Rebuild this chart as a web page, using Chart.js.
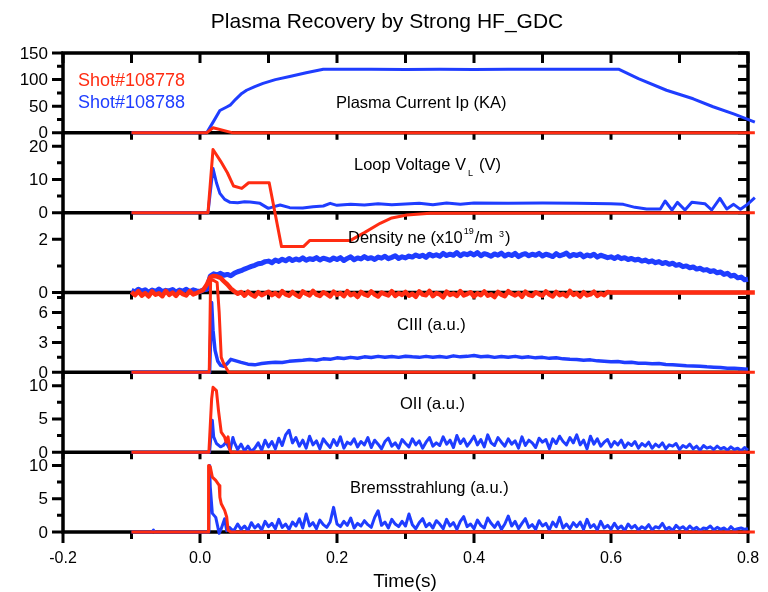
<!DOCTYPE html>
<html lang="en">
<head>
<meta charset="UTF-8">
<title>Plasma Recovery by Strong HF_GDC</title>
<style>
    body { margin: 0; background: #fff; }
    #wrap { width: 768px; height: 592px; }
</style>
</head>
<body>
<div id="wrap"><canvas id="chart" width="768" height="592"></canvas></div>
<script src="https://cdn.jsdelivr.net/npm/chart.js"></script>
<script>
// ---- data (time in s) ----
const xTicks = [-0.2, 0, 0.2, 0.4, 0.6, 0.8];
const xMinor = [-0.1, 0.1, 0.3, 0.5, 0.7];

// panel y ranges (top to bottom) and their ticks
const panelMax = [150, 24, 3, 8, 12, 12];
const ipTicks = [0, 50, 100, 150], ipMinor = [25, 75, 125];
const vlTicks = [0, 10, 20], vlMinor = [5, 15];
const neTicks = [0, 2], neMinor = [1];
const c3Ticks = [0, 3, 6], c3Minor = [1.5, 4.5, 7.5];
const o2Ticks = [0, 5, 10], o2Minor = [2.5, 7.5];
const brTicks = [0, 5, 10], brMinor = [2.5, 7.5];

// Plasma current Ip (kA)
const ipRedT = [-0.1, 0.0098, 0.019, 0.048, 0.81];
const ipRed = [0, 0, 9.5, 0, 0];
const ipBlueT = [-0.1, 0.0098, 0.02, 0.029, 0.039, 0.044, 0.052, 0.061, 0.068, 0.08, 0.092, 0.11, 0.131, 0.155, 0.18,
    0.25, 0.3, 0.35, 0.4, 0.45, 0.5, 0.55, 0.611, 0.64, 0.681, 0.72, 0.749, 0.78, 0.81];
const ipBlue = [0, 0, 22, 42, 48.6, 52, 63, 74, 80, 87, 93, 100, 106, 113, 119.6,
    119.6, 119, 119.6, 119.2, 119.6, 119.4, 119.5, 119.6, 102, 80, 64, 49, 35, 20];

// Loop voltage VL (V)
const vlRedT = [-0.1, 0.0117, 0.019, 0.03, 0.04, 0.049, 0.061, 0.071, 0.101, 0.119, 0.151, 0.16, 0.219, 0.24, 0.263, 0.28, 0.302, 0.336, 0.81];
const vlRed = [0, 0, 19, 15.5, 12, 8, 7.3, 9, 9, -10.2, -10.2, -8.4, -8.4, -6, -3.2, -1.6, -0.7, -0.2, 0];
const vlBlueT = [-0.1, 0.0117, 0.019, 0.024, 0.029, 0.036, 0.044, 0.055, 0.065, 0.073, 0.0876, 0.0997, 0.108, 0.117, 0.131,
    0.15, 0.165, 0.18, 0.19, 0.2, 0.22, 0.24, 0.26, 0.28, 0.3, 0.32, 0.34, 0.36, 0.38, 0.4, 0.45, 0.5, 0.55, 0.6, 0.618,
    0.635, 0.652, 0.672, 0.679, 0.689, 0.697, 0.708, 0.718, 0.737, 0.747, 0.759, 0.769, 0.779, 0.789, 0.798, 0.81];
const vlBlue = [0, 0, 13.3, 9, 5.8, 4, 3.1, 3.0, 3.3, 3.2, 2.8, 1.3, 1.8, 2.3, 1.5,
    1.4, 1.8, 2.0, 2.8, 2.2, 2.5, 2.3, 2.7, 2.4, 2.6, 2.8, 2.4, 2.9, 2.5, 2.9, 2.8, 2.9, 2.8, 2.7, 2.5,
    1.6, 1.1, 1.1, 3.5, 0.8, 3.1, 0.8, 3.1, 2.7, 0.8, 4.3, 1.1, 2.5, 1.0, 2.3, 4.5];

// Density ne (1e19 m^-3), sampled every 5 ms from -0.1 s
const neRed = [
    0.02, -0.1, 0.05, -0.12, -0.02, -0.15, 0.04, -0.08, -0.03, -0.14, 0.06, -0.09, 0.0, -0.13, 0.03, -0.06, -0.11, 0.05, -0.07, -0.02, 0.04, 0.1,
    0.3, 0.58, 0.62, 0.6, 0.55, 0.42, 0.3, 0.15, 0.05, -0.05, 0.02, -0.12, 0.03, -0.08, -0.15, 0.01, -0.1, -0.04,
    0.03, -0.1, -0.02, -0.14, 0.05, -0.07, -0.12, 0.02, -0.09, -0.16, 0.04, -0.05, -0.11, 0.06, -0.08, -0.13, 0.01, -0.06, -0.15, 0.03,
    -0.09, -0.02, -0.14, 0.05, -0.1, -0.04, -0.17, 0.02, -0.07, -0.12, 0.04, -0.08, -0.15, 0.0, -0.06, -0.11, 0.05, -0.13, -0.03, -0.09,
    0.02, -0.12, -0.05, -0.16, 0.04, -0.08, -0.1, 0.06, -0.14, -0.02, -0.07, -0.18, 0.03, -0.09, -0.04, -0.13, 0.05, -0.11, -0.06, 0.01,
    -0.15, -0.03, -0.1, 0.04, -0.12, -0.07, -0.17, 0.02, -0.08, -0.14, 0.05, -0.05, -0.11, -0.02, -0.16, 0.03, -0.09, -0.13, 0.01, -0.06,
    -0.12, 0.04, -0.08, -0.15, 0.02, -0.1, -0.05, -0.14, 0.06, -0.09, -0.03, -0.16, 0.01, -0.11, -0.07, 0.03, -0.13, -0.04, -0.1, 0.02
];
const neRedTail = [0, 0];        // flat after 0.6 s
const neRedTailT = [0.6, 0.81];
const neBlue = [
    0.08, 0.02, 0.12, 0.05, 0.1, 0.0, 0.09, 0.04, 0.13, 0.03, 0.08, 0.06, 0.11, 0.01, 0.09, 0.05, 0.12, 0.03, 0.1, 0.06, 0.04, 0.1,
    0.12, 0.62, 0.7, 0.66, 0.72, 0.65, 0.68, 0.63, 0.72, 0.78, 0.82, 0.88, 0.93, 0.98, 1.02, 1.08, 1.1, 1.16,
    1.18, 1.12, 1.22, 1.17, 1.25, 1.19, 1.28, 1.2, 1.26, 1.22, 1.3, 1.21, 1.27, 1.24, 1.31, 1.22, 1.29, 1.25, 1.21, 1.3,
    1.24, 1.31, 1.2, 1.28, 1.34, 1.23, 1.3, 1.26, 1.35, 1.27, 1.31, 1.24, 1.33, 1.29, 1.36, 1.27, 1.32, 1.38, 1.28, 1.34,
    1.3, 1.37, 1.33, 1.41, 1.35, 1.4, 1.32, 1.44, 1.37, 1.42, 1.36, 1.47, 1.39, 1.44, 1.4, 1.5, 1.38, 1.46, 1.42, 1.48,
    1.41, 1.5, 1.38, 1.46, 1.42, 1.36, 1.45, 1.4, 1.48, 1.37, 1.44, 1.39, 1.47, 1.35, 1.42, 1.46, 1.38, 1.44, 1.4, 1.47,
    1.37, 1.44, 1.4, 1.35, 1.46, 1.38, 1.42, 1.48, 1.36, 1.43, 1.39, 1.45, 1.34, 1.41, 1.37, 1.44, 1.33, 1.4, 1.36, 1.31,
    1.34, 1.28, 1.35, 1.27, 1.31, 1.24, 1.28, 1.22, 1.25, 1.18, 1.22, 1.15, 1.19, 1.12, 1.16, 1.09, 1.13, 1.06, 1.1, 1.02,
    1.05, 0.97, 1.0, 0.93, 0.96, 0.88, 0.91, 0.84, 0.86, 0.79, 0.82, 0.74, 0.77, 0.68, 0.72, 0.62, 0.65, 0.55, 0.58, 0.48, 0.5, 0.44
];

// CIII (a.u.)
const c3RedT = [-0.1, 0.0135, 0.0155, 0.02, 0.025, 0.028, 0.031, 0.035, 0.042, 0.81];
const c3Red = [0, 0, 9.3, 9.2, 9.0, 6, 1.5, 0.8, 0, 0];
const c3BlueEarlyT = [-0.1, 0.014, 0.017, 0.019, 0.022, 0.026, 0.03, 0.035, 0.04, 0.045];
const c3BlueEarly = [0, 0, 7.0, 4.2, 2.2, 1.1, 0.7, 0.6, 0.9, 1.3];
const c3Blue = [ // every 10 ms from 0.05 s
    1.2, 1.0, 0.82, 0.75, 0.88, 0.95, 1.02, 0.98, 1.1, 1.15,
    1.2, 1.28, 1.22, 1.35, 1.3, 1.45, 1.38, 1.5, 1.42, 1.55,
    1.48, 1.6, 1.52, 1.58, 1.5, 1.62, 1.55, 1.5, 1.6, 1.52,
    1.58, 1.5, 1.65, 1.55, 1.6, 1.68, 1.56, 1.62, 1.5, 1.58,
    1.52, 1.6, 1.48, 1.55, 1.45, 1.5, 1.4, 1.46, 1.35, 1.3,
    1.28, 1.2, 1.25, 1.15, 1.1, 1.05, 1.08, 0.98, 1.0, 0.92,
    0.9, 0.85, 0.88, 0.78, 0.75, 0.72, 0.66, 0.64, 0.6, 0.55,
    0.52, 0.48, 0.42, 0.4, 0.35, 0.3, 0.28
];

// OII (a.u.)
const o2RedT = [-0.1, 0.013, 0.017, 0.019, 0.024, 0.027, 0.031, 0.036, 0.038, 0.041, 0.043, 0.045, 0.81];
const o2Red = [0, 0, 8, 9.75, 9.25, 6.25, 3, 2.25, 1.5, 2.3, 0.6, 0, 0];
const o2BlueEarlyT = [-0.1, 0.014, 0.018, 0.02, 0.024, 0.03, 0.034, 0.038, 0.044, 0.048];
const o2BlueEarly = [0, 0, 4.8, 2.3, 1.3, 0.8, 1.0, 1.5, 0.3, 2.2];
const o2Blue = [ // every 5 ms from 0.05 s
    1.5, 0.4, 1.2, 0.2, 0.9, 0.1, 0.6, 1.4, 0.3, 1.8, 0.8, 1.6, 0.5, 2.1, 1.0, 2.6, 3.3, 1.4, 2.2, 0.9,
    1.8, 0.6, 2.4, 1.1, 1.7, 0.5, 2.0, 1.3, 0.7, 1.9, 1.0, 2.3, 0.6, 1.5, 1.2, 2.0, 0.8, 1.6, 1.1, 2.2,
    0.7, 1.8, 1.2, 0.5, 1.6, 2.1, 0.9, 1.4, 0.6, 1.9, 1.3, 0.8, 2.0, 1.1, 1.7, 0.6, 1.5, 2.2, 0.9, 1.4,
    1.0, 2.3, 1.2, 1.8, 0.7, 2.5, 1.3, 2.0, 0.9, 1.6, 2.4, 1.1, 1.9, 0.8, 2.6, 1.4, 1.0, 2.2, 1.5, 0.9,
    2.0, 1.2, 1.7, 0.6, 2.3, 1.0, 1.8, 1.4, 0.7, 2.1, 1.5, 1.9, 0.5, 2.0, 1.3, 2.4, 1.6, 1.1, 2.2, 1.4,
    2.6, 1.1, 1.8, 0.5, 2.4, 1.2, 2.0, 0.9, 1.5, 1.9, 0.8, 1.6, 1.1, 1.8, 0.7, 1.4, 1.0, 1.6, 0.6, 1.3,
    0.9, 1.5, 0.6, 1.2, 0.8, 1.4, 0.5, 1.1, 0.9, 1.3, 0.4, 1.0, 0.7, 1.2, 0.5, 0.9, 0.3, 1.0, 0.6, 0.8,
    0.4, 0.9, 0.5, 0.7, 0.3, 0.8, 0.4, 0.6, 0.2, 0.7, 0.3, 0.5
];

// Bremsstrahlung (a.u.)
const brRedT = [-0.1, 0.012, 0.0125, 0.015, 0.018, 0.023, 0.028, 0.029, 0.031, 0.036, 0.039, 0.041, 0.045, 0.81];
const brRed = [0, 0, 10, 9.8, 8.25, 7.75, 7, 5.25, 4.25, 3.25, 2.25, 0.25, 0, 0];
const brBlueEarlyT = [-0.1, -0.07, -0.068, -0.066, 0.013, 0.014, 0.015, 0.018, 0.023, 0.028, 0.031, 0.036, 0.039, 0.043, 0.047];
const brBlueEarly = [0, 0, 0.3, 0, 0, 10, 6.8, 2.8, 2.2, -0.2, 0.5, 2.0, 0.2, 0.7, 0.3];
const brBlue = [ // every 5 ms from 0.05 s
    0.3, 1.2, 0.4, 0.9, 0.2, 1.4, 0.6, 1.1, 0.3, 1.6, 0.8, 1.3, 0.5, 1.9, 0.7, 1.2, 0.4, 1.5, 0.9, 2.0,
    0.6, 2.7, 0.9, 1.4, 0.5, 1.8, 1.1, 0.7, 1.5, 3.7, 1.2, 0.8, 1.6, 1.0, 2.1, 0.6, 1.3, 0.9, 1.7, 1.1,
    0.7, 2.2, 3.2, 1.0, 1.5, 0.6, 1.9, 1.2, 0.8, 1.6, 0.9, 2.7, 1.1, 0.5, 1.4, 2.0, 0.8, 1.3, 0.6, 1.7,
    1.2, 0.5, 1.9, 0.9, 1.4, 0.4, 1.6, 2.3, 0.8, 1.2, 0.5, 1.8, 1.0, 0.6, 2.1, 1.3, 0.7, 1.5, 0.4, 1.2,
    2.4, 0.9, 1.6, 0.5, 1.3, 2.0, 0.7, 1.1, 0.4, 1.7, 0.9, 1.3, 0.3, 1.5, 0.8, 2.2, 0.6, 1.2, 0.5, 1.4,
    0.8, 1.5, 0.4, 1.9, 0.7, 1.1, 0.3, 1.6, 0.6, 1.0, 0.4, 1.3, 0.5, 0.9, 0.2, 1.2, 0.6, 1.0, 0.3, 0.8,
    0.5, 1.1, 0.3, 0.8, 0.6, 1.3, 0.4, 0.7, 0.2, 1.0, 0.5, 0.8, 0.3, 0.9, 0.4, 0.7, 0.2, 0.6, 0.5, 0.9,
    0.3, 0.7, 0.4, 0.6, 0.2, 0.8, 0.3, 0.5, 0.6, 0.4, 0.5, 1.0
];

// ---- helpers ----
const RED = '#ff2c12';
const BLUE = '#1f3dff';
const FONT = "'Liberation Sans', Arial, Helvetica, sans-serif";
const panelIds = ['yIp', 'yVl', 'yNe', 'yC3', 'yO2', 'yBr'];
const panelTicks = [ipTicks, vlTicks, neTicks, c3Ticks, o2Ticks, brTicks];
const panelMinor = [ipMinor, vlMinor, neMinor, c3Minor, o2Minor, brMinor];

function grid(t0, dt, n) {
    return Array.from({ length: n }, (_, i) => +(t0 + i * dt).toFixed(4));
}
function pts(t, v) {
    return t.map((x, i) => ({ x: x, y: v[i] }));
}
function line(t, v, color, axis, width) {
    return {
        data: pts(t, v),
        yAxisID: axis,
        borderColor: color,
        borderWidth: width || 3,
        pointRadius: 0,
        tension: 0,
        fill: false,
        borderJoinStyle: 'round',
        clip: { left: 0, top: 0, right: 8, bottom: 3 }
    };
}

const datasets = [
    // red shot on top
    line(ipRedT, ipRed, RED, 'yIp'),
    line(vlRedT, vlRed, RED, 'yVl'),
    line(grid(-0.1, 0.005, neRed.length).concat(neRedTailT), neRed.concat(neRedTail), RED, 'yNe', 4.5),
    line(c3RedT, c3Red, RED, 'yC3'),
    line(o2RedT, o2Red, RED, 'yO2'),
    line(brRedT, brRed, RED, 'yBr'),
    line(ipBlueT, ipBlue, BLUE, 'yIp'),
    line(vlBlueT, vlBlue, BLUE, 'yVl'),
    line(grid(-0.1, 0.005, neBlue.length), neBlue, BLUE, 'yNe', 5),
    line(c3BlueEarlyT.concat(grid(0.05, 0.01, c3Blue.length)), c3BlueEarly.concat(c3Blue), BLUE, 'yC3', 3.5),
    line(o2BlueEarlyT.concat(grid(0.05, 0.005, o2Blue.length)), o2BlueEarly.concat(o2Blue), BLUE, 'yO2'),
    line(brBlueEarlyT.concat(grid(0.05, 0.005, brBlue.length)), brBlueEarly.concat(brBlue), BLUE, 'yBr')
];

// each panel gets its own y axis spanning the whole plot, so that its
// range lands in one sixth of the height
const scales = {
    x: { type: 'linear', min: -0.2, max: 0.8, display: false }
};
panelIds.forEach((id, k) => {
    const hi = panelMax[k];
    scales[id] = { type: 'linear', display: false, min: -(5 - k) * hi, max: (k + 1) * hi };
});

function put(ctx, s, x, y, size, color, align) {
    ctx.font = size + 'px ' + FONT;
    ctx.fillStyle = color || '#000';
    ctx.textAlign = align || 'left';
    ctx.textBaseline = 'alphabetic';
    ctx.fillText(s, x, y);
    return x + ctx.measureText(s).width;
}

const framePlugin = {
    id: 'frame',
    beforeDatasetsDraw(chart) {
        const ctx = chart.ctx;
        const a = chart.chartArea;
        const xs = chart.scales.x;
        ctx.save();
        ctx.strokeStyle = '#000';
        ctx.lineCap = 'butt';

        // x tick marks: top edge, panel seams and bottom
        ctx.lineWidth = 3;
        const seams = panelIds.map(id => chart.scales[id].getPixelForValue(0));
        xTicks.concat(xMinor).forEach(v => {
            const px = xs.getPixelForValue(v);
            const major = xTicks.includes(v);
            ctx.beginPath();
            ctx.moveTo(px, a.top); ctx.lineTo(px, a.top + 10);
            seams.forEach((sy, i) => {
                const len = i === seams.length - 1 ? (major ? 11 : 7) : 7;
                ctx.moveTo(px, sy); ctx.lineTo(px, sy + len);
            });
            ctx.stroke();
        });

        // y tick marks, outward on the left, inward on the right
        panelIds.forEach((id, k) => {
            const ys = chart.scales[id];
            const all = panelTicks[k].map(v => [v, true]).concat(panelMinor[k].map(v => [v, false]));
            ctx.beginPath();
            all.forEach(([v, major]) => {
                const py = ys.getPixelForValue(v);
                ctx.moveTo(a.left - (major ? 11 : 6), py); ctx.lineTo(a.left, py);
                ctx.moveTo(a.right, py); ctx.lineTo(a.right - 10, py);
            });
            ctx.stroke();
        });

        // frame and panel seams
        ctx.lineWidth = 3.5;
        ctx.lineCap = 'square';
        ctx.beginPath();
        ctx.moveTo(a.left, a.top); ctx.lineTo(a.right, a.top);
        ctx.moveTo(a.left, a.top); ctx.lineTo(a.left, a.bottom);
        ctx.moveTo(a.right, a.top); ctx.lineTo(a.right, a.bottom);
        seams.forEach(sy => { ctx.moveTo(a.left, sy); ctx.lineTo(a.right, sy); });
        ctx.stroke();
        ctx.restore();
    },
    afterDatasetsDraw(chart) {
        const ctx = chart.ctx;
        const xs = chart.scales.x;
        ctx.save();

        put(ctx, 'Plasma Recovery by Strong HF_GDC', 387, 28, 21, '#000', 'center');

        // y tick labels
        panelIds.forEach((id, k) => {
            const ys = chart.scales[id];
            panelTicks[k].forEach(v => put(ctx, String(v), 48, ys.getPixelForValue(v) + 5.5, 17, '#000', 'right'));
        });
        // x tick labels and title
        xTicks.forEach(v => put(ctx, v.toFixed(1), xs.getPixelForValue(v), 563, 16, '#000', 'center'));
        put(ctx, 'Time(s)', 405, 587, 19, '#000', 'center');

        // shot legend
        put(ctx, 'Shot#108778', 78, 86, 18, RED);
        put(ctx, 'Shot#108788', 78, 107.5, 18, BLUE);

        // panel names
        const fs = 16.5;
        put(ctx, 'Plasma Current Ip (KA)', 336, 108, fs);
        let x = put(ctx, 'Loop Voltage V', 354, 170, fs);
        x = put(ctx, 'L', x + 2, 176, 9);
        put(ctx, '(V)', x + 6, 170, fs);
        x = put(ctx, 'Density ne (x10', 348, 243, fs);
        x = put(ctx, '19', x + 1, 234, 9);
        x = put(ctx, '/m', x + 1, 243, fs);
        x = put(ctx, '3', x + 6, 237, 9);
        put(ctx, ')', x + 1, 243, fs);
        put(ctx, 'CIII (a.u.)', 397, 330, fs);
        put(ctx, 'OII (a.u.)', 400, 408.5, fs);
        put(ctx, 'Bremsstrahlung (a.u.)', 350, 493, fs);
        ctx.restore();
    }
};

new Chart(document.getElementById('chart').getContext('2d'), {
    type: 'line',
    data: { datasets: datasets },
    options: {
        responsive: false,
        animation: false,
        devicePixelRatio: 1,
        layout: { padding: { left: 63, right: 20, top: 53, bottom: 60 } },
        scales: scales,
        plugins: {
            legend: { display: false },
            title: { display: false },
            tooltip: { enabled: false }
        }
    },
    plugins: [framePlugin]
});
</script>
</body>
</html>
